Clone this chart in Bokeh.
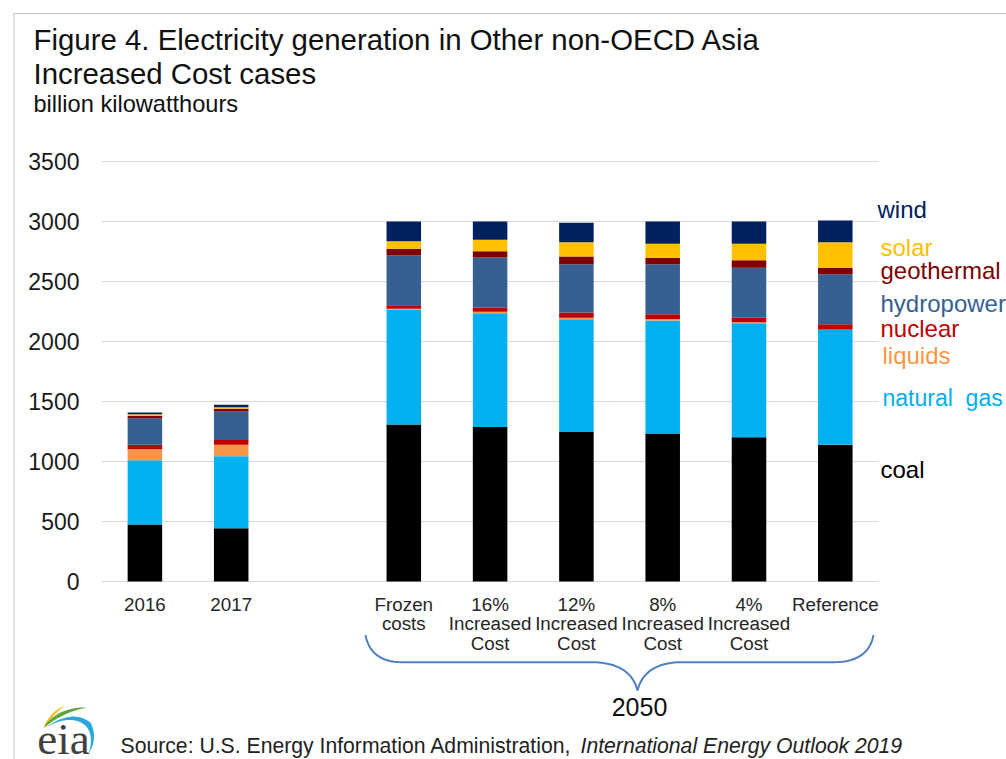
from bokeh.plotting import figure
from bokeh.models import Range1d, Label, PolyAnnotation, FixedTicker
from bokeh.embed import file_html
from bokeh.resources import INLINE

categories = ["2016", "2017", "Frozen\ncosts", "16%\nIncreased\nCost", "12%\nIncreased\nCost",
              "8%\nIncreased\nCost", "4%\nIncreased\nCost", "Reference"]
slots = [0, 1, 3, 4, 5, 6, 7, 8]
y_ticks = [0, 500, 1000, 1500, 2000, 2500, 3000, 3500]
coal = [475, 444, 1308, 1287, 1246, 1233, 1203, 1139]
natural_gas = [535, 600, 956, 949, 940, 942, 950, 961]
liquids = [93, 95, 8, 11, 11, 11, 8, 1]
nuclear = [36, 41, 31, 36, 45, 42, 36, 43]
hydropower = [222, 237, 414, 417, 402, 416, 417, 417]
geothermal = [19, 22, 55, 52, 64, 53, 64, 53]
solar = [14, 14, 64, 95, 120, 117, 136, 214]
wind = [14, 19, 164, 153, 161, 186, 186, 180]

series_names = ["coal", "natural gas", "liquids", "nuclear", "hydropower", "geothermal", "solar", "wind"]
series_colors = ["#000000", "#00B0F0", "#F79646", "#C00000", "#376092", "#7F0000", "#FFC000", "#002060"]

W, H = 1006, 759
OFF = 0
FONT = "Liberation Sans"
X0, SX = 144.4, 86.3     # pixel of slot 0, pixels per slot
Y0, SY = 581.0, 0.12     # pixel of value 0, pixels per unit

p = figure(width=W, height=H,
           x_range=Range1d(-X0 / SX, (W - X0) / SX),
           y_range=Range1d(-(H - Y0) / SY, Y0 / SY),
           output_backend="svg", toolbar_location=None,
           min_border_left=0, min_border_right=0, min_border_top=0, min_border_bottom=0)
p.outline_line_color = None
p.background_fill_color = "white"
p.border_fill_color = "white"
p.grid.visible = False

p.segment(x0=[-0.5] * len(y_ticks), x1=[8.5] * len(y_ticks), y0=y_ticks, y1=y_ticks,
          line_color="#D9D9D9", line_width=1.2)

data = dict(x=slots)
for n, v in zip(series_names, [coal, natural_gas, liquids, nuclear, hydropower, geothermal, solar, wind]):
    data[n] = v
p.vbar_stack(series_names, x="x", width=0.4, source=data, color=series_colors, line_color=None)

p.yaxis.ticker = FixedTicker(ticks=y_ticks)
p.yaxis.fixed_location = (100 - X0) / SX
p.yaxis.axis_line_color = None
p.yaxis.major_tick_line_color = None
p.yaxis.minor_tick_line_color = None
p.yaxis.major_label_text_font = FONT
p.yaxis.major_label_text_font_size = "23px"
p.yaxis.major_label_text_color = "#1a1a1a"
p.yaxis.major_label_standoff = 15

p.xaxis.ticker = FixedTicker(ticks=slots)
p.xaxis.major_label_overrides = dict(zip(slots, categories))
p.xaxis.fixed_location = 0
p.xaxis.axis_line_color = None
p.xaxis.major_tick_line_color = None
p.xaxis.minor_tick_line_color = None
p.xaxis.major_label_text_font = FONT
p.xaxis.major_label_text_font_size = "18.8px"
p.xaxis.major_label_text_color = "#262626"
p.xaxis.major_label_text_line_height = 0.95
p.xaxis.major_label_standoff = 6
p.xaxis.major_label_orientation = "horizontal"


def txt(s, x, y, size, color="#111111", align="left", style="normal", font=FONT):
    p.add_layout(Label(x=x - OFF, y=y - OFF, x_units="canvas", y_units="canvas", text=s, text_font=font,
                       text_font_size=f"{size}px", text_color=color, text_align=align,
                       text_baseline="middle", text_font_style=style))


def poly(pts, fill=None, line=None, lw=1.0):
    xs = [a - OFF for a, _ in pts]
    ys = [b - OFF for _, b in pts]
    p.add_layout(PolyAnnotation(xs=xs, ys=ys, xs_units="canvas", ys_units="canvas",
                                fill_color=fill, fill_alpha=1 if fill else 0,
                                line_color=line, line_alpha=1 if line else 0, line_width=lw,
                                editable=False))


def quad(a, c, b, n=14):
    return [((1 - t) ** 2 * a[0] + 2 * t * (1 - t) * c[0] + t * t * b[0],
             (1 - t) ** 2 * a[1] + 2 * t * (1 - t) * c[1] + t * t * b[1])
            for t in [i / n for i in range(n + 1)]]


# Page frame of the picture
poly([(13, 759), (13, 12.5), (1006, 12.5), (1006, 13.5), (14, 13.5), (14, 759)], fill="#C4C4C4")

txt("Figure 4. Electricity generation in Other non-OECD Asia", 33, 39, 29.4)
txt("Increased Cost cases", 33, 73, 29.4)
txt("billion kilowatthours", 33, 103, 23.6)

txt("wind", 877, 209, 24, "#002060")
txt("solar", 880, 247, 24, "#FFC000")
txt("geothermal", 880, 270, 24, "#7F0000")
txt("hydropower", 880, 303, 24, "#376092")
txt("nuclear", 880, 328, 24, "#C00000")
txt("liquids", 882, 355, 24, "#F79646")
txt("natural\u00a0\u00a0gas", 882, 397, 23, "#00B0F0")
txt("coal", 880, 469, 24, "#000000")

txt("2050", 639, 706, 25, "#111111", align="center")
txt("Source: U.S. Energy Information Administration, ", 120, 745, 21.2, "#222222")
txt("International Energy Outlook 2019", 580, 745, 21.2, "#222222", style="italic")

# Brace under the 2050 cases
brace = (quad((365, 634.5), (370, 661.7), (402, 661.7)) + quad((590, 661.7), (630, 661.7), (637, 690))
         + quad((637, 690), (644, 661.7), (682, 661.7)) + quad((833, 661.7), (868, 661.7), (873, 634.5)))
poly(brace + brace[::-1], line="#4F81BD", lw=2)

# EIA logo
poly(quad((43, 727), (50, 710), (65, 705)) + quad((65, 705), (54, 712), (45, 727)), fill="#F2C230")
poly(quad((45, 724), (60, 706), (87, 707)) + quad((87, 707), (64, 711), (45, 726)), fill="#5FA53A")
poly(quad((45, 727), (72, 708), (90, 722)) + quad((90, 722), (98, 738), (88, 753))
     + quad((88, 753), (94, 735), (85, 725)) + quad((85, 725), (70, 713), (45, 727)), fill="#2AA7DC")
txt("eia", 63, 738, 45, "#404040", align="center", font="Liberation Serif")

open("out.html", "w").write(file_html(p, INLINE))
